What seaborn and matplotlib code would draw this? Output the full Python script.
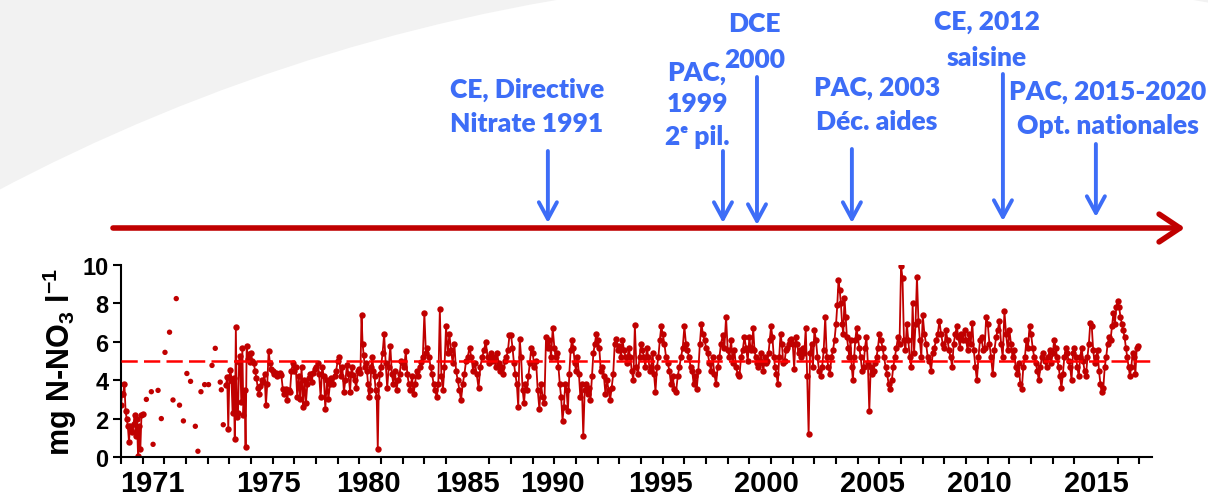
import numpy as np
import pandas as pd
import matplotlib
matplotlib.use("Agg")
import matplotlib.pyplot as plt
import matplotlib.transforms as mtransforms
from matplotlib.patches import Ellipse
import seaborn as sns

# ---------------- data ----------------
# first connected cluster (1970 - early 1971)
v1970 = [2.7, 3.3, 3.3, 3.8, 2.4, 2.0, 1.6, 0.8, 1.6, 1.4, 1.3, 1.7, 2.2, 1.1, 2.0, 0.05, 1.6, 0.4, 2.2, 2.25]
# isolated samples 1971-1974
sparse_t = [1971.17, 1971.40, 1971.48, 1971.71, 1971.86, 1972.03, 1972.24, 1972.40, 1972.55, 1972.70,
            1972.88, 1973.04, 1973.21, 1973.43, 1973.55, 1973.69, 1973.86, 1974.04, 1974.20, 1974.35,
            1974.58, 1974.63, 1974.72]
sparse_v = [3.0, 3.4, 0.66, 3.47, 2.0, 5.45, 6.5, 2.97, 8.25, 2.7,
            1.88, 4.35, 3.94, 1.6, 0.3, 3.4, 3.77, 3.77, 4.77, 5.66,
            3.9, 3.5, 1.68]
# continuous record from late 1974
v1975 = [3.77, 4.15, 1.46, 4.15, 4.55, 3.98, 2.3, 4.1, 0.94, 6.75, 2.07, 2.3, 4.93, 5.28, 2.85, 5.7, 2.2, 3.5, 0.5, 5.8, 5.1, 5.36, 4.93]
v1976 = [5.4, 5.0, 4.9, 4.5, 4.1, 3.6, 3.3, 3.7, 4.0, 3.9, 4.3, 2.7, 3.8, 5.5, 4.9, 4.6]
v1977 = [4.5, 4.3, 4.4, 4.2, 4.3, 4.4, 4.25, 3.55, 3.3, 3.55, 2.95, 3.5, 3.4, 4.5, 4.9]
v1978 = [4.5, 4.7, 3.1, 4.2, 3.0, 4.7, 2.6, 4.0, 2.8, 3.8, 4.1, 4.3, 3.9, 4.4, 4.6]
v1979 = [4.7, 4.9, 4.3, 3.1, 4.7, 4.2, 2.5, 4.0, 3.0, 3.8, 4.1, 3.8, 4.2, 4.5]
v1980 = [5.0, 5.2, 4.2, 4.7, 3.4, 4.0, 4.8, 4.3, 3.4, 4.7, 4.25, 4.0, 3.6, 4.5]
v1981 = [4.6, 4.4, 7.4, 5.9, 5.3, 4.7, 4.9, 4.5, 3.8, 3.1, 3.5, 4.7, 5.2, 4.5, 4.2, 3.5, 3.1, 0.43, 3.8, 4.3]
v1982 = [4.7, 5.4, 6.4, 4.9, 3.6, 4.7, 5.8, 4.3, 3.8, 4.5, 3.5, 4.0, 4.3, 5.0]
v1983 = [4.9, 4.7, 5.5, 4.3, 3.8, 3.5, 4.2, 3.3, 3.8, 4.5, 4.2, 4.7, 4.95, 5.2]
v1984 = [7.5, 5.4, 5.7, 5.2, 4.7, 4.3, 3.8, 3.5, 3.1, 3.8, 7.7, 4.2, 3.5, 4.7]
v1985 = [6.8, 5.4, 6.4, 5.55, 4.9, 5.9, 4.5, 4.0, 3.5, 2.95, 3.8, 4.3, 5.0]
v1986 = [5.2, 5.7, 5.2, 4.5, 4.9, 4.3, 3.6, 4.7, 5.2, 5.55, 6.0, 5.2]
v1987 = [4.9, 5.4, 5.0, 5.2, 4.7, 5.4, 4.9, 4.5, 4.7, 4.3, 5.0, 5.2, 5.55, 6.35]
v1988 = [6.35, 5.7, 4.9, 4.3, 3.8, 2.6, 6.15, 5.2, 3.5, 2.8, 3.8, 3.5, 4.2, 4.9, 5.7]
v1989 = [5.4, 4.7, 5.0, 3.5, 2.5, 3.8, 3.1, 2.8, 6.25, 5.7, 6.1, 5.2, 6.7]
v1990 = [5.7, 5.2, 5.4, 4.7, 3.8, 3.1, 1.9, 2.6, 3.8, 3.5, 2.4, 4.3, 5.55, 6.1, 5.7, 4.9]
v1991 = [4.5, 5.2, 4.3, 3.1, 3.8, 1.1, 3.5, 3.8, 3.3, 3.6, 2.95, 4.2, 5.4, 5.9, 6.4]
v1992 = [6.1, 5.7, 4.5, 4.7, 4.2, 3.3, 4.0, 3.5, 2.95, 3.6, 4.3, 5.9, 6.15, 5.55]
v1993 = [5.8, 5.2, 6.1, 5.55, 5.2, 4.9, 5.7, 5.2, 4.5, 4.0, 6.85, 4.7, 4.3, 5.2]
v1994 = [5.9, 5.55, 5.2, 4.7, 5.7, 5.2, 4.5, 4.7, 5.4, 4.3, 3.4, 4.7, 5.2, 6.1, 6.8]
v1995 = [6.4, 5.9, 5.2, 4.9, 4.5, 3.8, 4.2, 3.55, 3.4, 4.2, 4.7, 5.2, 5.7]
v1996 = [6.8, 5.9, 5.55, 5.2, 4.7, 4.5, 3.8, 4.2, 3.55, 4.5, 5.9, 6.95, 6.4, 6.1]
v1997 = [5.7, 5.4, 4.9, 4.5, 5.2, 4.3, 3.8, 4.7, 5.2, 5.9, 6.35, 5.7, 7.3]
v1998 = [5.55, 5.2, 6.1, 4.9, 5.55, 4.7, 4.3, 4.2, 5.2, 5.55, 6.25, 5.7, 5.0]
v1999 = [6.25, 5.55, 5.7, 6.7, 5.55, 5.2, 4.9, 4.7, 5.0, 5.4, 4.9, 4.5, 5.2, 4.9, 5.0, 5.4, 6.1]
v2000 = [6.8, 6.25, 5.2, 4.7, 4.3, 3.8, 5.2, 6.4, 5.9, 4.9, 5.0, 5.55, 5.7, 5.9, 6.1, 6.15]
v2001 = [5.9, 4.6, 6.25, 5.9, 5.4, 5.55, 5.2, 5.7, 5.4, 6.7, 4.2, 1.2, 5.4, 5.9, 4.7]
v2002 = [6.6, 6.1, 5.2, 4.5, 4.2, 4.7, 5.55, 7.3, 5.2, 4.7, 4.3, 5.2, 5.55, 6.1]
v2003 = [6.95, 7.9, 9.2, 8.7, 8.0, 6.95, 6.4, 8.3, 7.3, 6.25, 5.7, 5.2, 6.1, 4.7, 4.0, 5.2, 6.1, 6.7]
v2004 = [6.25, 5.7, 5.2, 4.5, 4.7, 5.7, 6.25, 4.9, 2.4, 4.7, 4.3, 4.5, 4.9, 5.2, 5.7]
v2005 = [6.4, 6.1, 5.7, 5.2, 4.7, 4.3, 3.8, 3.55, 4.0, 4.7, 5.2, 5.7, 6.25, 5.9]
v2006 = [9.95, 9.3, 6.1, 5.55, 6.95, 6.1, 5.2, 4.7, 8.0, 5.4, 6.95, 9.4, 7.1, 6.1, 5.2]
v2007 = [7.4, 6.4, 5.9, 5.2, 5.0, 4.5, 5.4, 5.7, 6.1, 6.4, 7.1, 6.4, 5.9]
v2008 = [5.7, 6.6, 6.1, 5.55, 5.2, 4.7, 5.9, 6.4, 6.8, 6.25, 5.7, 6.4, 6.1, 6.6]
v2009 = [6.1, 5.55, 6.4, 5.9, 7.0, 5.55, 4.7, 4.0, 5.2, 6.1, 6.25, 5.55, 5.7, 7.3]
v2010 = [6.95, 5.9, 5.2, 4.3, 5.55, 6.25, 6.6, 7.1, 5.9, 5.2, 7.6, 6.4, 5.55]
v2011 = [6.6, 5.9, 5.2, 5.55, 4.7, 4.3, 4.9, 3.8, 3.55, 4.7, 5.2, 6.1, 5.7, 6.8]
v2012 = [6.4, 5.7, 5.2, 4.9, 4.5, 4.0, 4.7, 5.2, 5.4, 5.0, 4.7, 5.2, 5.55, 4.9]
v2013 = [5.4, 6.1, 5.7, 5.2, 4.7, 4.2, 3.6, 4.3, 5.2, 5.7, 5.4, 5.0, 4.7, 4.0, 5.4]
v2014 = [5.7, 5.2, 4.7, 4.2, 5.2, 5.7, 5.0, 4.5, 4.2, 5.2, 5.9, 7.0, 6.8, 5.55, 4.9]
v2015 = [5.2, 5.55, 4.5, 3.8, 3.4, 3.6, 4.7, 5.2, 5.9, 6.25, 6.1, 6.8, 7.5, 6.95, 7.8]
v2016 = [8.15, 7.8, 7.3, 6.95, 6.6, 6.25, 5.7, 5.2, 4.7, 4.2, 4.7, 5.4, 5.2, 4.3, 5.7, 5.8]

dense_years = [v1975, v1976, v1977, v1978, v1979, v1980, v1981, v1982, v1983, v1984,
               v1985, v1986, v1987, v1988, v1989, v1990, v1991, v1992, v1993, v1994,
               v1995, v1996, v1997, v1998, v1999, v2000, v2001, v2002, v2003, v2004,
               v2005, v2006, v2007, v2008, v2009, v2010, v2011, v2012, v2013, v2014,
               v2015, v2016]
first_dense_year = 1975
record_start = 1974.85   # first sample of the continuous record
threshold = 5

tick_label_text = ["1971", "1975", "1980", "1985", "1990", "1995", "2000", "2005", "2010", "2015"]
tick_label_pos = [1971.43, 1976.8, 1981.4, 1986.0, 1989.9, 1994.9, 1999.8, 2004.7, 2009.6, 2015.0]

event_pos = [1989.7, 1997.78, 1999.35, 2003.73, 2010.70, 2014.99]
event_lines = [["CE, Directive", "Nitrate 1991"],
               ["PAC,", "1999", "2ᵉ pil."],
               ["DCE", "2000"],
               ["PAC, 2003", "Déc. aides"],
               ["CE, 2012", "saisine"],
               ["PAC, 2015-2020", "Opt. nationales"]]

# ---------------- build table ----------------
rows = []
for i, v in enumerate(v1970):
    rows.append((1970 + 1.05 * i / len(v1970), v, 0))
for k, vals in enumerate(dense_years):
    yr = first_dense_year + k
    start = record_start if k == 0 else yr
    span = (yr + 1) - start
    for i, v in enumerate(vals):
        rows.append((start + span * i / len(vals), v, 1))
df = pd.DataFrame(rows, columns=["t", "v", "seg"])
df_sparse = pd.DataFrame({"t": sparse_t, "v": sparse_v})

# ---------------- style ----------------
sns.set_theme(style="ticks")
plt.rcParams["font.family"] = ["Liberation Sans", "DejaVu Sans"]
plt.rcParams["mathtext.fontset"] = "custom"
plt.rcParams["mathtext.rm"] = "Liberation Sans:bold"
plt.rcParams["mathtext.it"] = "Liberation Sans:bold"
plt.rcParams["mathtext.bf"] = "Liberation Sans:bold"

W, H = 1208, 502
fig = plt.figure(figsize=(W / 100, H / 100), dpi=100)
fig.patch.set_facecolor("#F2F2F2")
R = 1875
fig.add_artist(Ellipse((875 / W, 1 - 1848.7 / H), 2 * R / W, 2 * R / H,
                       transform=fig.transFigure, facecolor="white", edgecolor="none", zorder=0))

ax = fig.add_axes([121 / W, 44 / H, 1031 / W, 192 / H])
ax.set_facecolor("none")

red = "#C00000"
sns.lineplot(data=df, x="t", y="v", units="seg", estimator=None, sort=False,
             color=red, lw=1.3, marker="o", markersize=4.6, markeredgewidth=0, ax=ax, zorder=2)
sns.scatterplot(data=df_sparse, x="t", y="v", color=red, s=15, edgecolor="none", ax=ax, zorder=2)
ax.axhline(threshold, color="#FF0000", lw=1.8, dashes=(6.5, 2.5), zorder=3)

ax.set_xlim(1970, 2017.58)
ax.set_ylim(0, 10)
sns.despine(ax=ax)
for s in ["left", "bottom"]:
    ax.spines[s].set_linewidth(1.5)
    ax.spines[s].set_color("black")
ax.set_yticks(range(0, 11, 2))
ax.tick_params(axis="y", which="major", direction="out", length=6, width=1.5,
               labelsize=17, pad=3, colors="black")
for lab in ax.get_yticklabels():
    lab.set_fontweight("bold")
ax.set_xticks(range(1970, 2018), minor=True)
ax.set_xticks(tick_label_pos)
ax.set_xticklabels(tick_label_text, fontsize=21, fontweight="bold")
ax.tick_params(axis="x", which="major", length=0, pad=9, colors="black")
ax.tick_params(axis="x", which="minor", direction="out", length=5, width=1.5, color="black")
ax.set_xlabel("")
ax.set_ylabel("mg N-NO$_3$ l$^{-1}$", fontsize=22, fontweight="bold", labelpad=2, color="black")

# ---------------- timeline with events ----------------
blend = mtransforms.blended_transform_factory(ax.transData, fig.transFigure)
fy = lambda px: 1 - px / H
ax.annotate("", xy=(2019.1, fy(229)), xytext=(1969.63, fy(229)), xycoords=blend, textcoords=blend,
            annotation_clip=False,
            arrowprops=dict(arrowstyle="->,head_length=1.5,head_width=1.0", lw=4, color=red,
                            mutation_scale=10, shrinkA=0, shrinkB=0))

blue = "#3D6DF7"
arrow_top = [152, 152, 78, 150, 75, 145]
arrow_tip = [224, 224, 226, 224, 222, 218]
text_x = [1988.74, 1996.58, 1999.25, 2004.89, 2009.96, 2015.55]
text_y = [[90, 124], [73, 104, 137], [24, 60], [88, 122], [22, 58], [92, 126]]
for i, xe in enumerate(event_pos):
    ax.annotate("", xy=(xe, fy(arrow_tip[i])), xytext=(xe, fy(arrow_top[i])),
                xycoords=blend, textcoords=blend, annotation_clip=False,
                arrowprops=dict(arrowstyle="->,head_length=1.2,head_width=0.65", lw=2.8,
                                color=blue, mutation_scale=10, shrinkA=0, shrinkB=0))
    for line, ypx in zip(event_lines[i], text_y[i]):
        ax.text(text_x[i], fy(ypx), line, transform=blend, ha="center", va="center",
                fontsize=19, fontweight="heavy", color=blue, family=["Lato", "DejaVu Sans"])

fig.savefig("out.png", dpi=100, facecolor=fig.get_facecolor())
